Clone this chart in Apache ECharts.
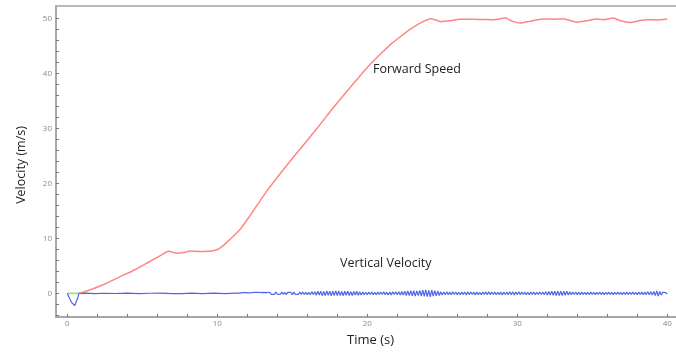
<!DOCTYPE html>
<html>
<head>
<meta charset="utf-8">
<script src="https://cdn.jsdelivr.net/npm/echarts@6/dist/echarts.min.js"></script>
<style>
  html, body { margin: 0; padding: 0; background: #fff; }
  #chart { width: 676px; height: 353px; }
</style>
</head>
<body>
<div id="chart"></div>
<script>
const xLabels = [0, 10, 20, 30, 40];
const xTicks = [0, 2, 4, 6, 8, 10, 12, 14, 16, 18, 20, 22, 24, 26, 28, 30, 32, 34, 36, 38, 40];
const yLabels = [0, 10, 20, 30, 40, 50];
const yTicks = [-4, -2, 0, 2, 4, 6, 8, 10, 12, 14, 16, 18, 20, 22, 24, 26, 28, 30, 32, 34, 36, 38, 40, 42, 44, 46, 48, 50];

// forward speed [time, m/s]
const forwardSpeed = [
    [0.8, 0], [1.5, 0.6], [2.5, 1.7], [3.5, 3.0], [4.5, 4.3], [5.5, 5.8], [6.3, 7.0], [6.75, 7.65],
    [7.3, 7.3], [7.8, 7.45], [8.2, 7.7], [8.8, 7.6], [9.4, 7.65], [9.8, 7.8], [10.2, 8.3], [10.6, 9.2],
    [11.1, 10.5], [11.6, 11.9], [12.3, 14.6], [13.3, 18.6], [14.4, 22.5], [15.5, 26.2], [16.7, 30.2],
    [17.8, 34.0], [18.9, 37.6], [19.9, 40.8], [20.9, 43.6], [21.6, 45.4], [22.2, 46.7], [23.0, 48.3],
    [23.75, 49.5], [24.25, 50.0], [24.5, 49.8], [24.9, 49.45], [25.5, 49.6], [26.2, 49.9], [27.0, 49.9],
    [27.8, 49.85], [28.4, 49.8], [29.2, 50.1], [29.7, 49.5], [30.2, 49.2], [30.8, 49.5], [31.7, 49.95],
    [32.4, 49.9], [33.1, 49.95], [33.6, 49.6], [34.0, 49.35], [34.6, 49.6], [35.3, 49.95], [35.7, 49.8],
    [36.4, 50.1], [36.9, 49.6], [37.5, 49.3], [38.1, 49.6], [38.7, 49.8], [39.3, 49.75], [40.0, 49.95]
];

// green reference line at zero
const zeroLine = [[0, 0], [0.8, 0], [1.2, 0]];

// vertical velocity, start-up dip and quiet part
const verticalStart = [
    [0, 0], [0.15, -0.9], [0.3, -1.7], [0.5, -2.2], [0.6, -2.0], [0.7, -0.8], [0.78, 0],
    [1.2, 0.03], [1.8, -0.03], [2.5, 0.02], [3.2, -0.02], [4.0, 0.04], [4.8, -0.03], [5.5, 0.02],
    [6.2, 0.05], [7.0, -0.04], [7.6, -0.06], [8.3, 0.03], [9.0, -0.04], [9.8, 0.05], [10.5, -0.05], [11.2, 0.04]
];

// vertical velocity oscillation, 0.1 s steps from 11.5 s
const verticalStartTime = 11.5;
const verticalStep = 0.1;
const verticalTail = [
    0.05, -0.08, 0.12, -0.1, 0.15, -0.12, 0.1, -0.15, 0.12, -0.1,
    0.18, -0.15, 0.2, -0.12, 0.15, -0.2, 0.18, -0.15, 0.12, -0.18,
    0.2, -0.18, 0.15, -0.2, 0.22, -0.15, 0.18, -0.2, 0.25, -0.18,
    0.2, -0.22, 0.18, -0.15, 0.2, -0.25, 0.22, -0.18, 0.15, -0.2,
    0.22, -0.18, 0.25, -0.2, 0.18, -0.22, 0.2, -0.25, 0.28, -0.2,
    0.3, -0.35, 0.38, -0.3, 0.4, -0.42, 0.35, -0.38, 0.42, -0.35,
    0.4, -0.45, 0.38, -0.4, 0.45, -0.38, 0.42, -0.4, 0.35, -0.42,
    0.38, -0.35, 0.4, -0.38, 0.32, -0.4, 0.35, -0.3, 0.38, -0.35,
    0.3, -0.28, 0.25, -0.22, 0.2, -0.25, 0.22, -0.2, 0.25, -0.22,
    0.2, -0.25, 0.22, -0.18, 0.25, -0.2, 0.3, -0.25, 0.22, -0.28,
    0.25, -0.3, 0.28, -0.22, 0.3, -0.25, 0.28, -0.3, 0.35, -0.3,
    0.4, -0.38, 0.45, -0.42, 0.5, -0.45, 0.48, -0.5, 0.45, -0.4,
    0.55, -0.5, 0.6, -0.55, 0.65, -0.6, 0.55, -0.62, 0.58, -0.5,
    0.5, -0.45, 0.42, -0.38, 0.3, -0.28, 0.25, -0.22, 0.28, -0.25,
    0.22, -0.25, 0.28, -0.2, 0.25, -0.22, 0.2, -0.25, 0.22, -0.18,
    0.25, -0.28, 0.3, -0.22, 0.25, -0.2, 0.22, -0.28, 0.25, -0.22,
    0.2, -0.25, 0.22, -0.2, 0.28, -0.25, 0.3, -0.22, 0.25, -0.2,
    0.22, -0.25, 0.2, -0.22, 0.25, -0.28, 0.22, -0.2, 0.25, -0.22,
    0.28, -0.25, 0.3, -0.28, 0.25, -0.22, 0.28, -0.25, 0.22, -0.2,
    0.22, -0.25, 0.2, -0.22, 0.25, -0.2, 0.22, -0.25, 0.2, -0.18,
    0.22, -0.2, 0.25, -0.22, 0.28, -0.3, 0.35, -0.32, 0.38, -0.35,
    0.4, -0.38, 0.42, -0.4, 0.38, -0.42, 0.4, -0.35, 0.38, -0.3,
    0.28, -0.25, 0.22, -0.2, 0.25, -0.22, 0.2, -0.25, 0.22, -0.18,
    0.2, -0.22, 0.18, -0.2, 0.22, -0.18, 0.2, -0.22, 0.18, -0.2,
    0.22, -0.2, 0.18, -0.22, 0.2, -0.18, 0.22, -0.2, 0.18, -0.22,
    0.2, -0.18, 0.22, -0.2, 0.18, -0.22, 0.2, -0.18, 0.22, -0.2,
    0.18, -0.2, 0.22, -0.18, 0.2, -0.22, 0.25, -0.2, 0.22, -0.25,
    0.25, -0.22, 0.28, -0.25, 0.3, -0.28, 0.35, -0.4, 0.45, -0.48,
    0.35, -0.3, 0.2, -0.15, 0.12, -0.1
];

const verticalVelocity = verticalStart.concat(
    verticalTail.map((v, i) => [+(verticalStartTime + i * verticalStep).toFixed(1), v])
);

const axisGray = '#a3a3a3';
const labelStyle = { color: '#8a8a8a', fontSize: 8, fontFamily: 'Open Sans' };

function getOption() {
    return {
        animation: false,
        grid: {
            left: 56,
            top: 6,
            width: 624,
            bottom: 36,
            outerBoundsMode: 'none',
            show: true,
            borderColor: axisGray,
            borderWidth: 1.5
        },
        xAxis: {
            type: 'value',
            min: -0.75,
            max: 40.85,
            axisLine: { show: true, onZero: false, lineStyle: { color: axisGray, width: 1.5 } },
            axisTick: { show: true, inside: true, length: 3, customValues: xTicks, lineStyle: { color: '#777' } },
            axisLabel: Object.assign({ customValues: xLabels, margin: 3 }, labelStyle),
            splitLine: { show: false }
        },
        yAxis: {
            type: 'value',
            min: -4.3,
            max: 52.3,
            axisLine: { show: true, onZero: false, lineStyle: { color: axisGray, width: 1.5 } },
            axisTick: { show: true, inside: true, length: 3, customValues: yTicks, lineStyle: { color: '#777' } },
            axisLabel: Object.assign({ customValues: yLabels, margin: 4 }, labelStyle),
            splitLine: { show: false }
        },
        series: [
            {
                name: 'zero',
                type: 'line',
                data: zeroLine,
                showSymbol: false,
                z: 1,
                lineStyle: { color: '#a6dc7e', width: 1.6 }
            },
            {
                name: 'Vertical Velocity',
                type: 'line',
                data: verticalVelocity,
                showSymbol: false,
                z: 2,
                lineStyle: { color: '#5064e8', width: 1.2 }
            },
            {
                name: 'Forward Speed',
                type: 'line',
                data: forwardSpeed,
                showSymbol: false,
                smooth: 0.2,
                z: 3,
                lineStyle: { color: '#ff7070', width: 1.5, opacity: 0.85 }
            }
        ],
        graphic: [
            {
                type: 'text', left: 373, top: 63,
                style: { text: 'Forward Speed', font: '12.5px "Open Sans"', fill: '#222' }
            },
            {
                type: 'text', left: 340, top: 257,
                style: { text: 'Vertical Velocity', font: '12.5px "Open Sans"', fill: '#222' }
            },
            {
                type: 'text', left: 347, top: 334,
                style: { text: 'Time (s)', font: '13px "Open Sans"', fill: '#222' }
            },
            {
                type: 'text', x: 21, y: 165, rotation: Math.PI / 2,
                style: { text: 'Velocity (m/s)', font: '12.5px "Open Sans"', fill: '#222', align: 'center', verticalAlign: 'middle' }
            }
        ]
    };
}

const chart = echarts.init(document.getElementById('chart'));
chart.setOption(getOption());
</script>
</body>
</html>
